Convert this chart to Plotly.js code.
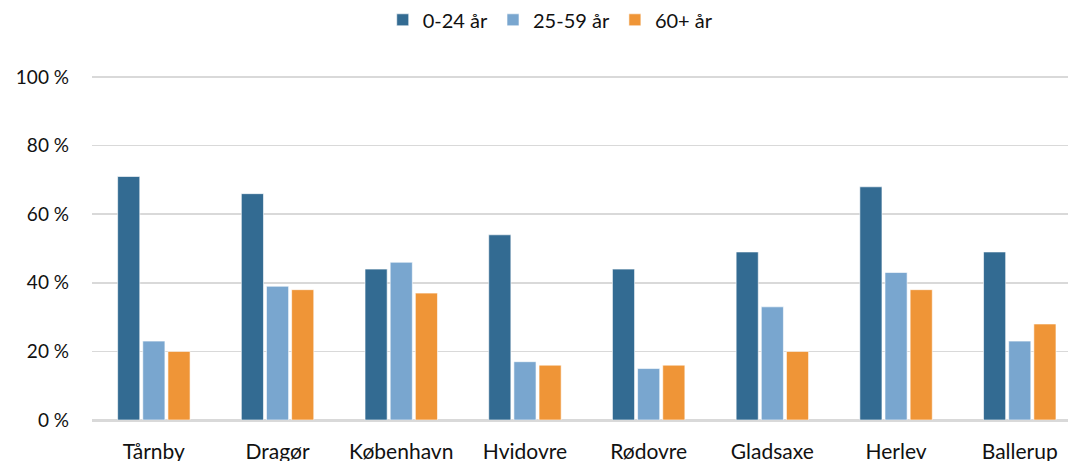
<!DOCTYPE html>
<html><head><meta charset="utf-8">
<script src="https://cdn.plot.ly/plotly-3.0.1.min.js"></script>
<style>html,body{margin:0;padding:0;background:#fff}</style>
</head><body><div id="chart" style="width:1068px;height:461px"></div>
<script>
const categories = ["Tårnby","Dragør","København","Hvidovre","Rødovre","Gladsaxe","Herlev","Ballerup"];
const seriesNames = ["0-24 år","25-59 år","60+ år"];
const young = [71,66,44,54,44,49,68,49];
const middle = [23,39,46,17,15,33,43,23];
const old = [20,38,37,16,16,20,38,28];
const colors = ["#336b92","#79a6cf","#ef9537"];
const vals = [young, middle, old];
const traces = vals.map((v,i)=>({
  type:"bar", name:seriesNames[i], x:categories, y:v,
  marker:{color:colors[i], line:{color:"rgba(255,255,255,0.6)", width:1}},
  hoverinfo:"skip"
}));
const layout = {
  width:1068, height:461,
  margin:{l:92, r:0, t:75, b:41},
  paper_bgcolor:"#fff", plot_bgcolor:"#fff",
  font:{family:"Lato, Open Sans, sans-serif", size:19, color:"#111"},
  barmode:"group", bargap:0.39, bargroupgap:0.12,
  showlegend:true,
  legend:{orientation:"h", x:0.47, xanchor:"center", y:1.16, yanchor:"middle", font:{size:20}, itemwidth:30, traceorder:"normal"},
  xaxis:{type:"category", range:[-0.5,7.39], showgrid:false, showline:false, zeroline:false, ticks:"", tickfont:{size:21}, ticklabelstandoff:17},
  yaxis:{range:[0,100.6], tickvals:[0,20,40,60,80,100], ticktext:["0 %","20 %","40 %","60 %","80 %","100 %"], showgrid:true, gridcolor:"#d9d9d9", gridwidth:1.5, zeroline:true, zerolinecolor:"#d9d9d9", zerolinewidth:3, showline:false, ticks:"", tickfont:{size:19}, ticklabelstandoff:22}
};
Plotly.newPlot("chart", traces, layout, {displayModeBar:false, staticPlot:true});
</script></body></html>
